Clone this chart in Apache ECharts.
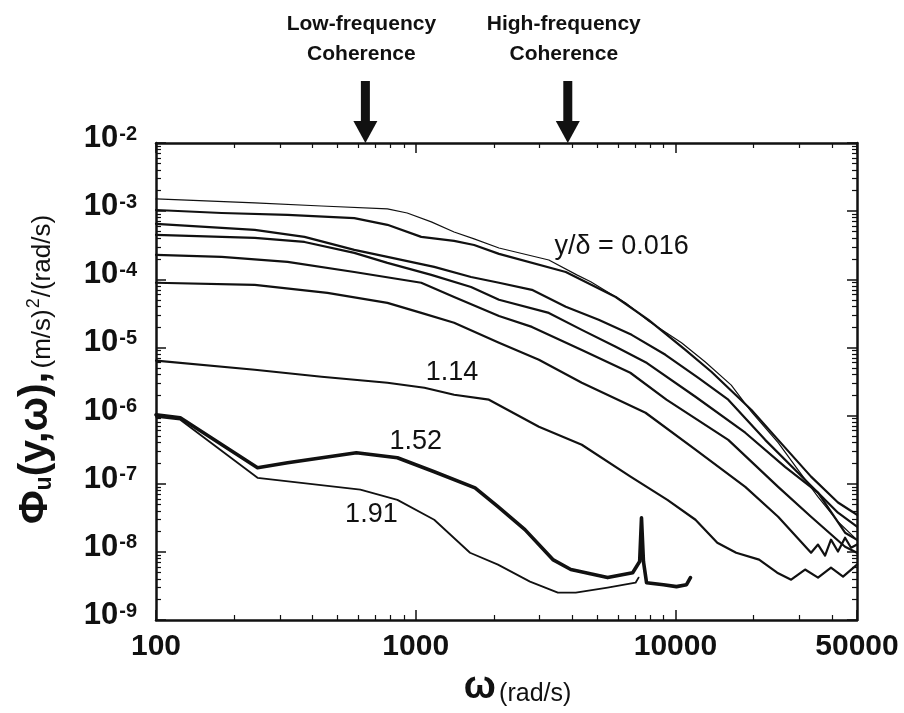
<!DOCTYPE html>
<html>
<head>
<meta charset="utf-8">
<script src="https://cdn.jsdelivr.net/npm/echarts@6/dist/echarts.min.js"></script>
<style>
html,body{margin:0;padding:0;background:#fff;}
#chart{width:904px;height:713px;}
</style>
</head>
<body>
<div id="chart"></div>
<script>
// ---- data: [omega (rad/s), Phi_u ((m/s)^2/(rad/s))] ----
const curveA = [[100,1.51e-3],[240,1.32e-3],[434,1.19e-3],[778,1.08e-3],[927,9.4e-4],[1148,6.95e-4],[1405,4.95e-4],[1678,3.91e-4],[2092,2.88e-4],[3254,1.92e-4],[4170,1.16e-4],[4719,9.2e-5],[6433,4.5e-5],[7874,2.45e-5],[10550,1.17e-5],[13030,6.1e-6],[16400,2.8e-6],[19580,1.14e-6],[24850,4.0e-7],[29650,1.6e-7],[35390,6.4e-8],[42240,2.77e-8],[50000,1.5e-8]];
const curveB = [[100,1.04e-3],[179,9.4e-4],[321,8.8e-4],[580,7.9e-4],[778,6.3e-4],[1050,4.19e-4],[1405,3.66e-4],[1678,3.19e-4],[2092,2.36e-4],[3782,1.28e-4],[5888,5.5e-5],[7874,2.54e-5],[10920,9.2e-6],[13750,4.4e-6],[19580,1.22e-6],[24850,4.4e-7],[33270,1.27e-7],[42240,5.3e-8],[50000,3.5e-8]];
const curveC = [[100,6.5e-4],[240,5.3e-4],[373,4.19e-4],[580,2.70e-4],[778,2.13e-4],[1178,1.52e-4],[1633,1.08e-4],[2092,8.9e-5],[2801,7.0e-5],[3782,3.94e-5],[5062,2.54e-5],[6782,1.53e-5],[9150,7.8e-6],[12250,3.58e-6],[15970,1.71e-6],[22150,4.4e-7],[29650,1.45e-7],[42240,3.76e-8],[50000,2.34e-8]];
const curveD = [[100,4.48e-4],[240,4.05e-4],[373,3.53e-4],[580,2.44e-4],[778,1.74e-4],[1148,1.16e-4],[1633,7.7e-5],[2092,5.0e-5],[3254,3.21e-5],[4359,1.81e-5],[5888,1.02e-5],[7770,5.9e-6],[11940,1.89e-6],[18570,5.6e-7],[26420,1.77e-7],[35390,7.4e-8],[44980,1.91e-8],[50000,1.5e-8]];
const curveE = [[100,2.28e-4],[179,2.13e-4],[321,1.80e-4],[580,1.28e-4],[1050,8.9e-5],[1405,5.5e-5],[2092,2.9e-5],[2801,2.0e-5],[4359,9.2e-6],[6700,4.25e-6],[9230,1.71e-6],[15970,4.4e-7],[24850,9.0e-8],[33270,3.28e-8],[44980,1.19e-8],[50000,9.7e-9]];
const curveF = [[100,8.9e-5],[240,8.3e-5],[457,6.3e-5],[778,4.5e-5],[1050,3.21e-5],[1405,2.30e-5],[2092,1.17e-5],[2980,6.6e-6],[4359,3.03e-6],[7670,1.10e-6],[11940,3.16e-7],[18570,9.0e-8],[24850,3.28e-8],[33270,9.7e-9],[35390,1.28e-8],[37670,8.8e-9],[39700,1.51e-8],[42240,1.01e-8],[44980,1.61e-8],[47430,1.15e-8],[50000,1.28e-8]];
const curve114 = [[100,6.4e-6],[240,4.7e-6],[434,3.71e-6],[778,3.03e-6],[1080,2.56e-6],[1405,2.02e-6],[1914,1.71e-6],[2980,6.85e-7],[4359,3.73e-7],[6715,1.27e-7],[9310,5.8e-8],[11940,2.96e-8],[14490,1.36e-8],[17130,9.7e-9],[20990,7.7e-9],[24640,4.95e-9],[27890,3.91e-9],[31550,5.5e-9],[35390,4.19e-9],[39700,5.86e-9],[44180,4.33e-9],[50000,6.5e-9]];
const curve152 = [[100,1.03e-6],[124,9.3e-7],[246,1.72e-7],[321,2.03e-7],[591,2.85e-7],[850,2.40e-7],[1178,1.50e-7],[1692,8.7e-8],[2073,4.6e-8],[2633,2.12e-8],[3372,7.7e-9],[3955,5.5e-9],[5481,4.19e-9],[6843,4.95e-9],[7280,7.2e-9],[7400,3.17e-8],[7530,7.2e-9],[7740,3.53e-9],[8990,3.3e-9],[10090,3.09e-9],[11030,3.3e-9],[11420,4.19e-9]];
const curve191 = [[100,9.6e-7],[124,8.7e-7],[246,1.22e-7],[612,8.2e-8],[850,5.8e-8],[1178,2.96e-8],[1618,9.7e-9],[2073,6.5e-9],[2754,3.66e-9],[3526,2.52e-9],[4133,2.52e-9],[5481,2.99e-9],[7021,3.53e-9],[7210,4.19e-9]];

const xRange = [100, 50000];
const yRange = [1e-9, 1e-2];

const curveLabels = [
  {text: 'y/δ = 0.016', omega: 6209, phi: 2.98e-4},
  {text: '1.14', omega: 1380, phi: 4.24e-6},
  {text: '1.52', omega: 1000, phi: 4.13e-7},
  {text: '1.91', omega: 675, phi: 3.51e-8}
];
const coherenceMarks = [
  {lines: ['Low-frequency', 'Coherence'], omega: 640},
  {lines: ['High-frequency', 'Coherence'], omega: 3850}
];

// ---- chart ----
const FONT = "'Liberation Sans', Arial, Helvetica, sans-serif";
const INK = '#111';
const chart = echarts.init(document.getElementById('chart'), null, {renderer: 'canvas'});

function mkX(pos, showLabel) {
  return {
    type: 'log', logBase: 10, min: xRange[0], max: xRange[1], position: pos, gridIndex: 0,
    axisLine: {show: true, lineStyle: {color: INK, width: 2.5}},
    axisTick: {show: true, inside: true, length: 10, lineStyle: {color: INK, width: 1.5}},
    minorTick: {show: true, splitNumber: 9, length: 5, lineStyle: {color: INK, width: 1.2}},
    splitLine: {show: false}, minorSplitLine: {show: false},
    axisLabel: {show: showLabel, margin: 12, color: INK, fontFamily: FONT, fontSize: 30, fontWeight: 'bold',
      formatter: v => String(Math.round(v))},
    name: showLabel ? '{w|ω} {u|(rad/s)}' : '',
    nameLocation: 'middle', nameGap: 60,
    nameTextStyle: {rich: {
      w: {fontFamily: FONT, fontSize: 38, fontWeight: 'bold', color: INK, lineHeight: 27, verticalAlign: 'bottom', padding: [0, 0, 0, 22]},
      u: {fontFamily: FONT, fontSize: 25, color: INK, lineHeight: 18, verticalAlign: 'bottom'}
    }}
  };
}
function mkY(pos, showLabel) {
  return {
    type: 'log', logBase: 10, min: yRange[0], max: yRange[1], position: pos, gridIndex: 0,
    axisLine: {show: true, lineStyle: {color: INK, width: 2.5}},
    axisTick: {show: true, inside: true, length: 10, lineStyle: {color: INK, width: 1.5}},
    minorTick: {show: true, splitNumber: 9, length: 5, lineStyle: {color: INK, width: 1.2}},
    splitLine: {show: false}, minorSplitLine: {show: false},
    axisLabel: {show: showLabel, margin: 19,
      formatter: v => '{b|10}{s|' + Math.round(Math.log10(v)) + '}',
      rich: {
        b: {fontFamily: FONT, fontSize: 31, fontWeight: 'bold', color: INK, lineHeight: 22, verticalAlign: 'bottom'},
        s: {fontFamily: FONT, fontSize: 20, fontWeight: 'bold', color: INK, lineHeight: 14, verticalAlign: 'bottom', padding: [0, 0, 10, 1]}
      }},
    name: showLabel ? '{phi|Φ}{sub|u}{p|(y,ω),} {m|(m/s)}{sup|2}{m|/(rad/s)}' : '',
    nameLocation: 'middle', nameRotate: 90, nameGap: 100,
    nameTextStyle: {rich: {
      phi: {fontFamily: FONT, fontSize: 41, fontWeight: 'bold', color: INK, lineHeight: 29, verticalAlign: 'bottom', padding: [0, 0, 0, 24]},
      p: {fontFamily: FONT, fontSize: 41, fontWeight: 'bold', color: INK, lineHeight: 29, verticalAlign: 'bottom'},
      sub: {fontFamily: FONT, fontSize: 23, fontWeight: 'bold', color: INK, lineHeight: 16, verticalAlign: 'bottom'},
      m: {fontFamily: FONT, fontSize: 26, color: INK, lineHeight: 18, verticalAlign: 'bottom'},
      sup: {fontFamily: FONT, fontSize: 18, color: INK, lineHeight: 13, verticalAlign: 'bottom', padding: [0, 1, 13, 1]}
    }}
  };
}

const curves = [
  {name: 'y/δ = 0.016', data: curveA, width: 1.2},
  {name: 'curve 2', data: curveB, width: 2.2},
  {name: 'curve 3', data: curveC, width: 2.2},
  {name: 'curve 4', data: curveD, width: 2.2},
  {name: 'curve 5', data: curveE, width: 2.2},
  {name: 'curve 6', data: curveF, width: 2.2},
  {name: 'y/δ = 1.14', data: curve114, width: 2.2},
  {name: 'y/δ = 1.52', data: curve152, width: 3.6},
  {name: 'y/δ = 1.91', data: curve191, width: 1.8}
];

const option = {
  backgroundColor: '#fff',
  animation: false,
  grid: {left: 156, right: 47, top: 143, bottom: 93, containLabel: false},
  xAxis: [mkX('bottom', true), mkX('top', false)],
  yAxis: [mkY('left', true), mkY('right', false)],
  series: curves.map(c => ({
    type: 'line', name: c.name, data: c.data, xAxisIndex: 0, yAxisIndex: 0,
    showSymbol: false, symbol: 'none', smooth: false,
    lineStyle: {color: INK, width: c.width, join: 'round', cap: 'round'}
  }))
};
chart.setOption(option);

// ---- annotations placed through the axes' own conversion ----
const toPx = (w, p) => chart.convertToPixel({seriesIndex: 0}, [w, p]);
const graphics = [];
curveLabels.forEach(l => {
  const [x, y] = toPx(l.omega, l.phi);
  graphics.push({type: 'text', x: x, y: y, silent: true,
    style: {text: l.text, fill: INK, font: '27px ' + FONT, align: 'center', verticalAlign: 'middle'}});
});
const topPx = toPx(100, yRange[1])[1];
coherenceMarks.forEach(m => {
  const x = toPx(m.omega, yRange[1])[0];
  graphics.push({type: 'text', x: x - 4, y: 24, silent: true,
    style: {text: m.lines[0], fill: INK, font: 'bold 21px ' + FONT, align: 'center', verticalAlign: 'middle'}});
  graphics.push({type: 'text', x: x - 4, y: 54, silent: true,
    style: {text: m.lines[1], fill: INK, font: 'bold 21px ' + FONT, align: 'center', verticalAlign: 'middle'}});
  graphics.push({type: 'rect', silent: true, shape: {x: x - 4.5, y: topPx - 62, width: 9, height: 42}, style: {fill: INK}});
  graphics.push({type: 'polygon', silent: true, shape: {points: [[x - 12, topPx - 22], [x + 12, topPx - 22], [x, topPx]]}, style: {fill: INK}});
});
chart.setOption({graphic: graphics});
</script>
</body>
</html>
